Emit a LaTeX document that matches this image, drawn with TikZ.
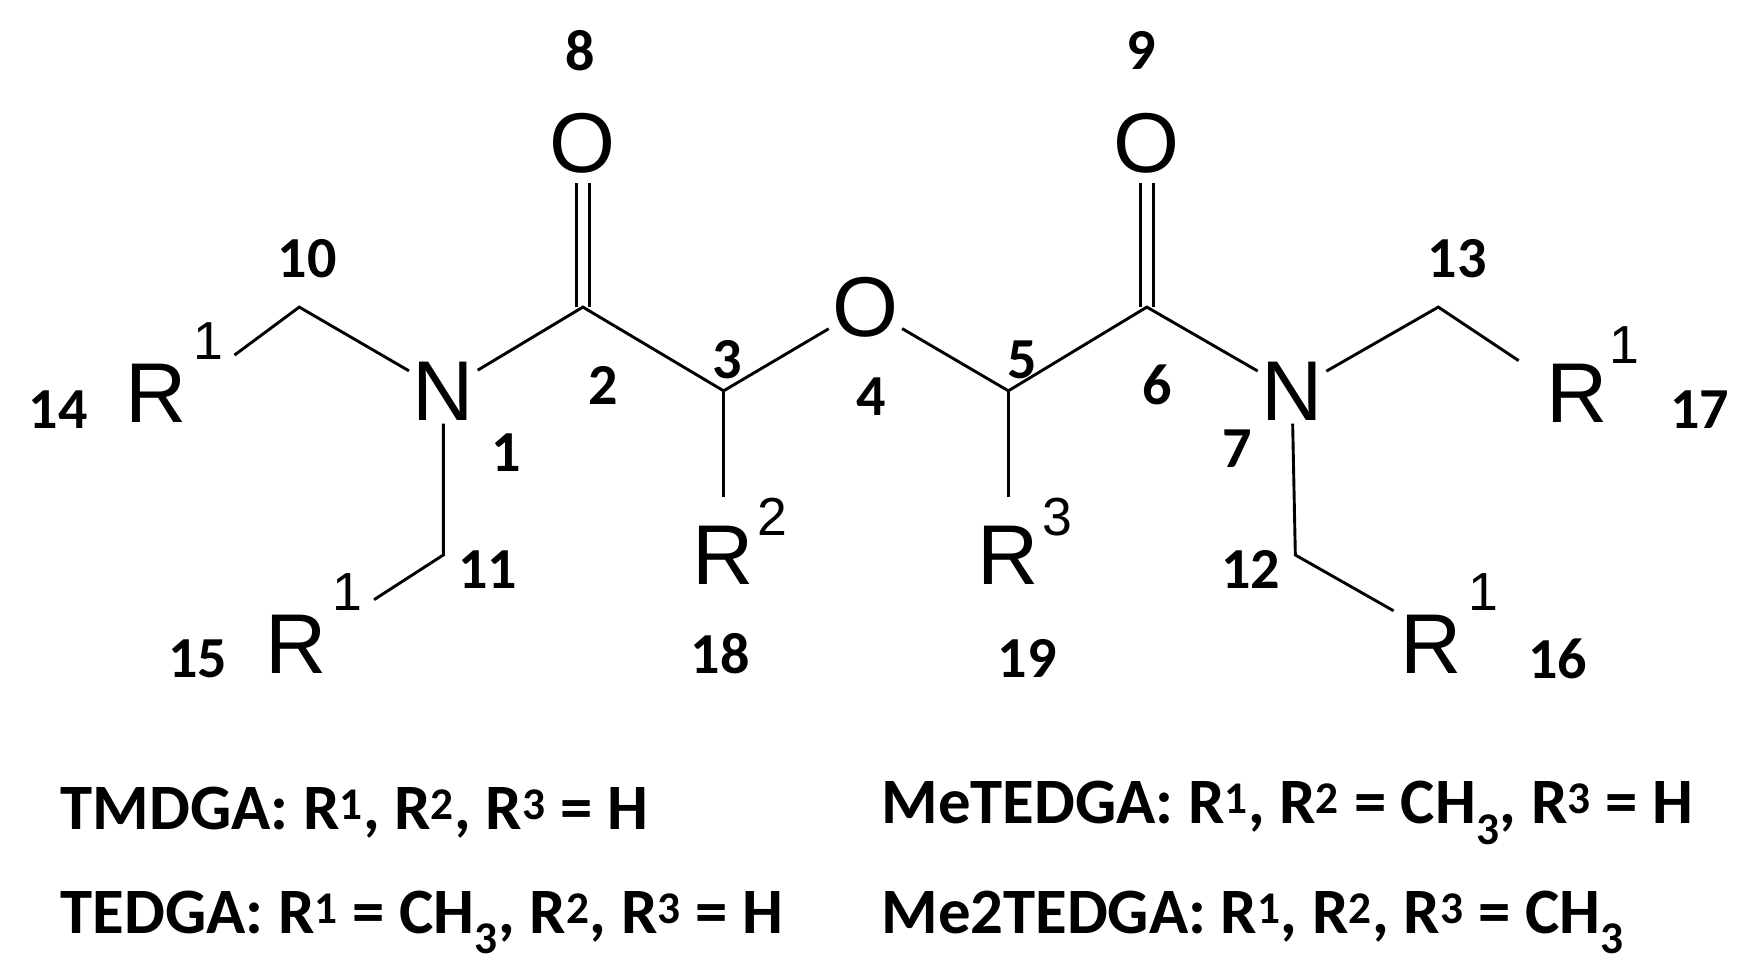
\documentclass[tikz,border=0pt]{standalone}
\usepackage{fontspec}
\setmainfont{Carlito}
\newfontfamily\atomf{Liberation Sans}
\begin{document}
\begin{tikzpicture}[x=1pt,y=-1pt,line width=2.6pt,
 atom/.style={font=\atomf\fontsize{76}{76}\selectfont,inner sep=2pt},
 sup/.style={font=\atomf\fontsize{48}{48}\selectfont,inner sep=0pt},
 num/.style={font=\bfseries\fontsize{52}{52}\selectfont,inner sep=0pt},
 leg/.style={font=\bfseries\fontsize{58}{58}\selectfont,inner sep=0pt,anchor=west}]
\useasboundingbox (0,0) rectangle (1560,867);
% atoms
\node[atom] (O8) at (522,128) {O};
\node[atom] (O9) at (1027,128) {O};
\node[atom] (N1) at (397,350) {N};
\node[atom] (N7) at (1157,350) {N};
\node[atom] (O4) at (775,275) {O};
\node[atom] (R14) at (140,352) {R};
\node[atom] (R15) at (265,577) {R};
\node[atom] (R18) at (648,497) {R};
\node[atom] (R19) at (903,497) {R};
\node[atom] (R17) at (1412,352) {R};
\node[atom] (R16) at (1282,577) {R};
\node[sup] (s14) at (187,305) {1};
\node[sup] (s15) at (311,530) {1};
\node[sup] (s18) at (692,463) {2};
\node[sup] (s19) at (947,463) {3};
\node[sup] (s17) at (1455,309) {1};
\node[sup] (s16) at (1328,530) {1};
% vertices
\coordinate (C2) at (522,275);
\coordinate (C6) at (1027,275);
\coordinate (C3) at (648,350);
\coordinate (C5) at (903,350);
\coordinate (C10) at (268,275);
\coordinate (C11) at (397,497);
\coordinate (C13) at (1288,275);
\coordinate (C12) at (1160,497);
% bonds
\draw ([xshift=-6pt]C2) -- ([xshift=-6pt,yshift=-6pt]O8.south);
\draw ([xshift=6pt]C2) -- ([xshift=6pt,yshift=-6pt]O8.south);
\draw ([xshift=-6pt]C6) -- ([xshift=-6pt,yshift=-6pt]O9.south);
\draw ([xshift=6pt]C6) -- ([xshift=6pt,yshift=-6pt]O9.south);
\draw (N1) -- (C2) -- (C3) -- (O4) -- (C5) -- (C6) -- (N7);
\draw (C3) -- (648,445);
\draw (C5) -- (903,445);
\draw (N1) -- (C10) -- (210,318);
\draw (N1) -- (C11) -- (335,537);
\draw (N7) -- (C13) -- (1360,323);
\draw (N7) -- (C12) -- (1248,547);
% numbers
\node[num] (n1) at (453,405) {1};
\node[num] (n2) at (540,345) {2};
\node[num] (n3) at (651,322) {3};
\node[num] (n4) at (780,355) {4};
\node[num] (n5) at (915,322) {5};
\node[num] (n6) at (1036,345) {6};
\node[num] (n7) at (1108,402) {7};
\node[num] (n8) at (520,45) {8};
\node[num] (n9) at (1022,45) {9};
\node[num] (n10) at (275,232) {10};
\node[num] (n11) at (437,510) {11};
\node[num] (n12) at (1120,510) {12};
\node[num] (n13) at (1305,232) {13};
\node[num] (n14) at (52,367) {14};
\node[num] (n15) at (177,590) {15};
\node[num] (n16) at (1395,590) {16};
\node[num] (n17) at (1522,367) {17};
\node[num] (n18) at (645,585) {18};
\node[num] (n19) at (920,590) {19};
% legend
\node[leg] (l1) at (53,728) {TMDGA: R\textsuperscript{1}, R\textsuperscript{2}, R\textsuperscript{3} = H};
\node[leg] (l2) at (53,826) {TEDGA: R\textsuperscript{1} = CH\textsubscript{3}, R\textsuperscript{2}, R\textsuperscript{3} = H};
\node[leg] (l3) at (788,728) {MeTEDGA: R\textsuperscript{1}, R\textsuperscript{2} = CH\textsubscript{3}, R\textsuperscript{3} = H};
\node[leg] (l4) at (788,826) {Me2TEDGA: R\textsuperscript{1}, R\textsuperscript{2}, R\textsuperscript{3} = CH\textsubscript{3}};
\end{tikzpicture}
\end{document}
